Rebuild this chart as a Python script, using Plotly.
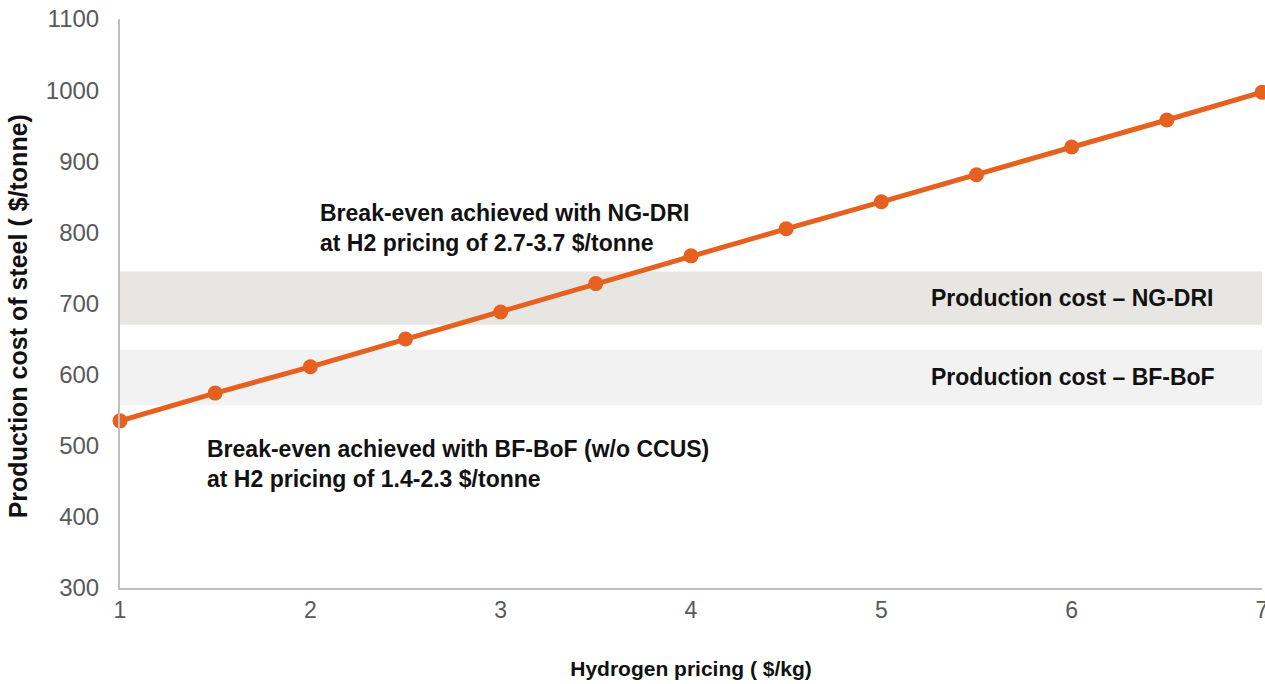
import plotly.graph_objects as go

# Hydrogen price ($/kg) vs. resulting steel production cost ($/tonne)
h2_price = [1, 1.5, 2, 2.5, 3, 3.5, 4, 4.5, 5, 5.5, 6, 6.5, 7]
steel_cost = [535, 574, 611, 650, 688, 728, 767, 805, 843, 881, 920, 958, 997]

# Conventional production cost ranges ($/tonne)
ng_dri_range = [670, 745]
bf_bof_range = [557, 635]

x_ticks = [1, 2, 3, 4, 5, 6, 7]
y_ticks = [300, 400, 500, 600, 700, 800, 900, 1000, 1100]

FONT = "Liberation Sans, Arial, sans-serif"
ORANGE = "#E6601F"

fig = go.Figure()

fig.add_trace(go.Scatter(
    x=h2_price, y=steel_cost,
    mode="lines+markers",
    line=dict(color=ORANGE, width=5),
    marker=dict(color=ORANGE, size=15),
    cliponaxis=False,
    showlegend=False,
    hoverinfo="x+y",
))

# Cost bands
fig.add_shape(type="rect", xref="paper", x0=0, x1=1, yref="y",
              y0=ng_dri_range[0], y1=ng_dri_range[1],
              fillcolor="#E7E6E2", line_width=0, layer="below")
fig.add_shape(type="rect", xref="paper", x0=0, x1=1, yref="y",
              y0=bf_bof_range[0], y1=bf_bof_range[1],
              fillcolor="#F2F2F2", line_width=0, layer="below")

bold = dict(family=FONT, size=23, color="#111111")

fig.add_annotation(x=5.25, y=sum(ng_dri_range) / 2, xanchor="left", yanchor="middle",
                   text="<b>Production cost – NG-DRI</b>", showarrow=False, font=bold)
fig.add_annotation(x=5.25, y=sum(bf_bof_range) / 2, xanchor="left", yanchor="middle",
                   text="<b>Production cost – BF-BoF</b>", showarrow=False, font=bold)
fig.add_annotation(x=2.04, y=806, xanchor="left", yanchor="middle", align="left",
                   text="<b>Break-even achieved with NG-DRI<br>at H2 pricing of 2.7-3.7 $/tonne</b>",
                   showarrow=False, font=bold)
fig.add_annotation(x=1.447, y=475, xanchor="left", yanchor="middle", align="left",
                   text="<b>Break-even achieved with BF-BoF (w/o CCUS)<br>at H2 pricing of 1.4-2.3 $/tonne</b>",
                   showarrow=False, font=bold)

# Vertical axis title
fig.add_annotation(xref="paper", x=0, xanchor="center", xshift=-102,
                   yref="y", y=682, yanchor="middle", textangle=-90,
                   text="<b>Production cost of steel ( $/tonne)</b>", showarrow=False,
                   font=dict(family=FONT, size=25, color="#111111"))

fig.update_layout(
    width=1265, height=684,
    margin=dict(l=120, r=3, t=19, b=96),
    paper_bgcolor="white", plot_bgcolor="white",
    font=dict(family=FONT),
    xaxis=dict(
        range=[1, 7], tickvals=x_ticks, ticks="", showgrid=False, zeroline=False,
        showline=True, linecolor="#BFBFBF", linewidth=2,
        tickfont=dict(family=FONT, size=23, color="#595959"),
        ticklabeloverflow="allow",
        title=dict(text="<b>Hydrogen pricing ( $/kg)</b>", standoff=40,
                   font=dict(family=FONT, size=21, color="#111111")),
        automargin=False,
    ),
    yaxis=dict(
        range=[300, 1100], tickvals=y_ticks, ticks="", showgrid=False, zeroline=False,
        showline=True, linecolor="#BFBFBF", linewidth=2,
        tickfont=dict(family=FONT, size=24, color="#595959"),
        ticklabelstandoff=14,
        automargin=False,
    ),
)

fig.write_html("out.html")
